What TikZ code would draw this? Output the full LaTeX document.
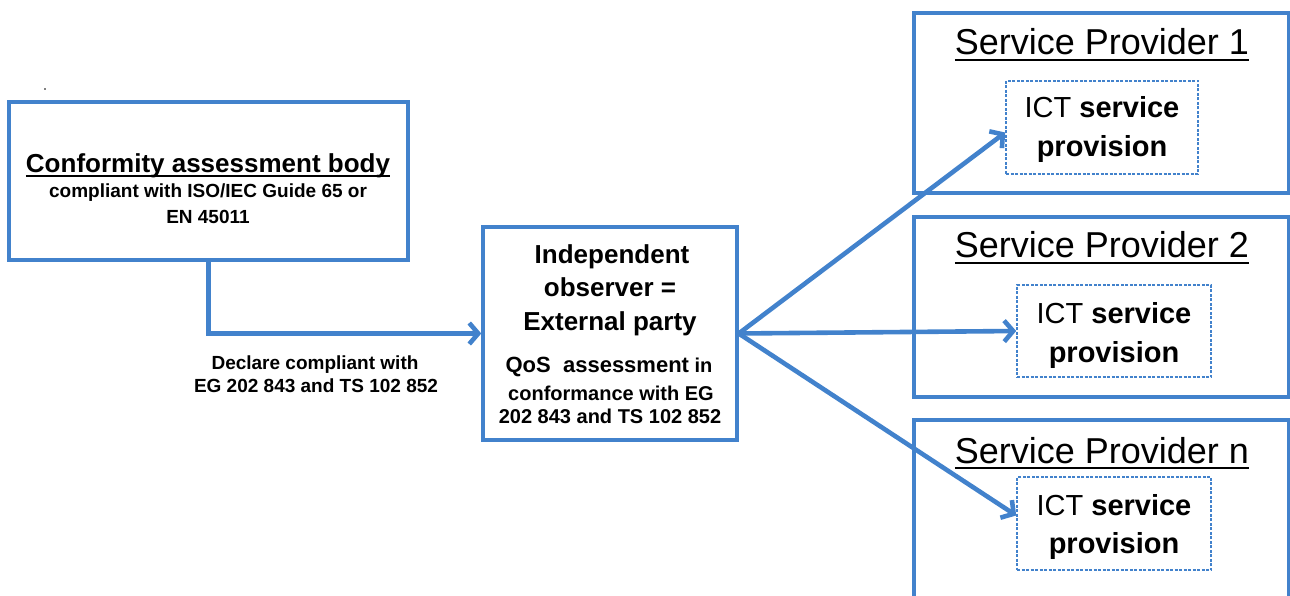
\documentclass[tikz,border=0pt]{standalone}
\usepackage{fontspec}
\setmainfont{Liberation Sans}
\usetikzlibrary{arrows.meta}
\definecolor{blu}{RGB}{66,130,204}
\newcommand{\fs}[1]{\fontsize{#1}{#1}\selectfont}
\newcommand{\myul}[2]{\setbox0\hbox{#2}\rlap{\rule[-#1]{\wd0}{2.4pt}}\box0}
\begin{document}
\begin{tikzpicture}[x=1pt,y=-1pt,
 box/.style={draw=blu, line width=3.4pt, rectangle, inner sep=0pt},
 dbox/.style={draw=blu, line width=1.6pt, dash pattern=on 3pt off 1.5pt, rectangle, inner sep=0pt},
 lbl/.style={anchor=base, inner sep=0pt, text=black},
 conn/.style={draw=blu, line width=4.6pt, -{Straight Barb[length=9pt,width=21pt]}}]
\clip (0,0) rectangle (1290,596);
\path[use as bounding box] (0,0) rectangle (1290,596);
% boxes
\node[box, minimum width=399pt, minimum height=158pt] (cab) at (208.5,181) {};
\node[box, minimum width=254pt, minimum height=213pt] (io) at (610,333.5) {};
\node[box, minimum width=375pt, minimum height=180pt] (sp1) at (1101.5,103) {};
\node[box, minimum width=375pt, minimum height=180pt] (sp2) at (1101.5,307) {};
\node[box, minimum width=375pt, minimum height=220pt] (spn) at (1101.5,530) {};
\node[dbox, minimum width=192pt, minimum height=93pt] (ict1) at (1102,127.5) {};
\node[dbox, minimum width=194pt, minimum height=92pt] (ict2) at (1114,331) {};
\node[dbox, minimum width=194pt, minimum height=93pt] (ictn) at (1114,523.5) {};
\fill[black] (45,89) circle (0.8pt);
% left box text
\node[lbl] (cabt) at (208,173) {\fs{26}\bfseries\myul{4pt}{Conformity assessment body}};
\node[lbl] (cab1) at (208,198) {\fs{19}\bfseries compliant with ISO/IEC Guide 65 or};
\node[lbl] (cab2) at (208,223) {\fs{19}\bfseries EN 45011};
% declare label
\node[lbl] (dec1) at (315,369) {\fs{19}\bfseries Declare compliant with};
\node[lbl] (dec2) at (316,392) {\fs{19}\bfseries EG 202 843 and TS 102 852};
% middle box text
\node[lbl] (io1) at (612,263) {\fs{26}\bfseries Independent};
\node[lbl] (io2) at (610,296) {\fs{26}\bfseries observer =};
\node[lbl] (io3) at (610,330) {\fs{26}\bfseries External party};
\node[lbl] (io4) at (609,372) {\bfseries\fs{22}QoS~ assessment\fs{20} in};
\node[lbl] (io5) at (611,400) {\fs{20}\bfseries conformance with EG};
\node[lbl] (io6) at (610,423) {\fs{20}\bfseries 202 843 and TS 102 852};
% provider titles
\node[lbl] (sp1t) at (1102,55) {\fs{36}\myul{6pt}{Service Provider 1}};
\node[lbl] (sp2t) at (1102,258) {\fs{36}\myul{6pt}{Service Provider 2}};
\node[lbl] (spnt) at (1102,463) {\fs{36}\myul{6pt}{Service Provider n}};
% ICT texts
\node[lbl] (ict1a) at (1102,118) {\fs{29}ICT \bfseries service};
\node[lbl] (ict1b) at (1102,157) {\fs{29}\bfseries provision};
\node[lbl] (ict2a) at (1114,323) {\fs{29}ICT \bfseries service};
\node[lbl] (ict2b) at (1114,362) {\fs{29}\bfseries provision};
\node[lbl] (ictna) at (1114,515) {\fs{29}ICT \bfseries service};
\node[lbl] (ictnb) at (1114,553) {\fs{29}\bfseries provision};
% connectors
\draw[conn] (cab.south) |- (io.west);
\draw[conn] (io.east) -- ([yshift=-5pt]ict1.west);
\draw[conn] (io.east) -- (ict2.west);
\draw[conn] (io.east) -- ([yshift=8pt]ictn.west);
\end{tikzpicture}
\end{document}
